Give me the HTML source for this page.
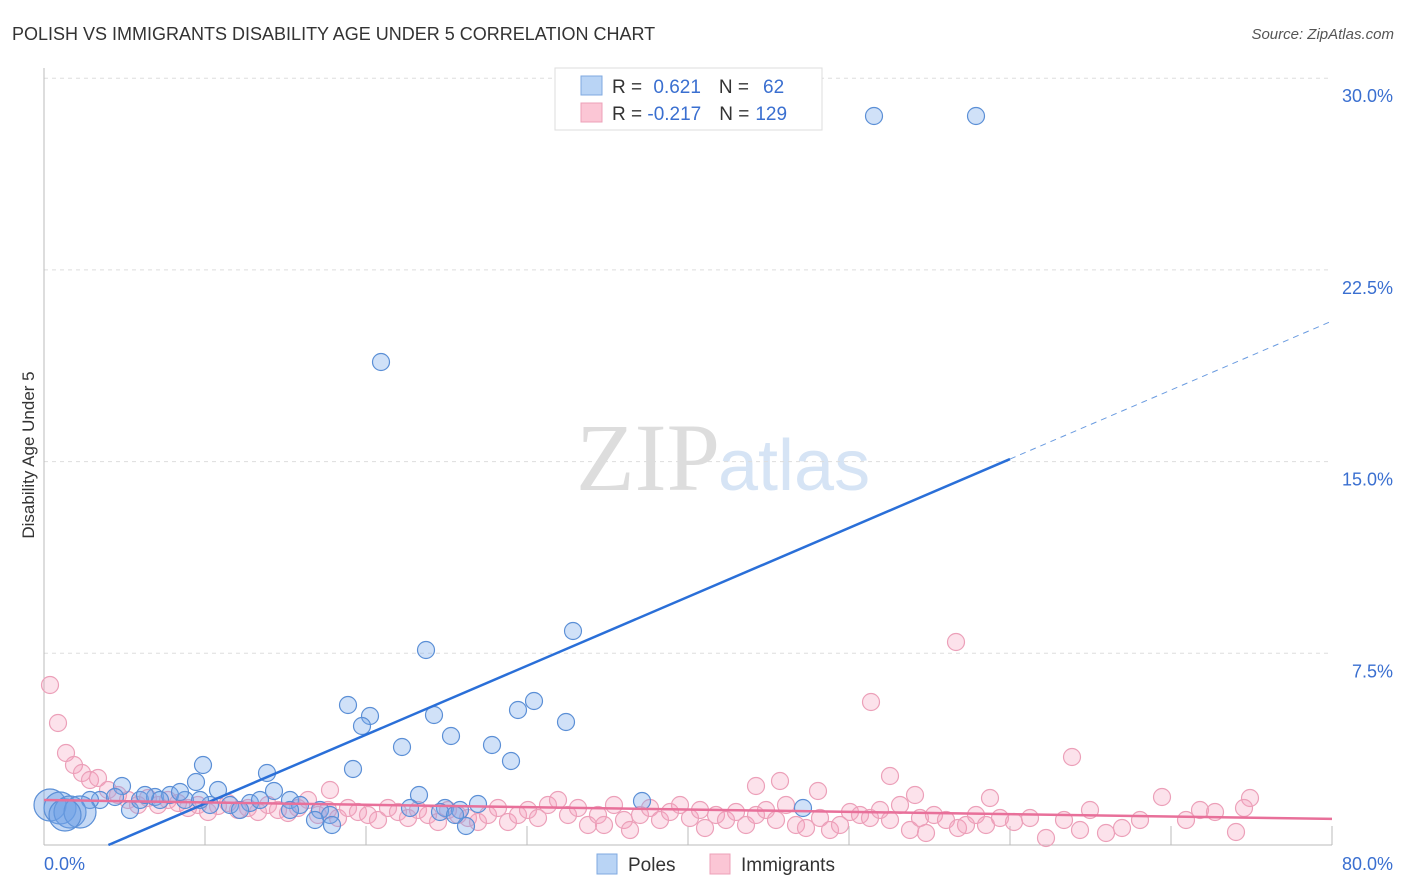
<!DOCTYPE html>
<html><head><meta charset="utf-8"><style>
body{margin:0;background:#fff;font-family:"Liberation Sans",sans-serif}
svg{display:block}
</style></head><body>
<svg width="1406" height="892" xmlns="http://www.w3.org/2000/svg">
<text x="12" y="40" font-size="18" fill="#333">POLISH VS IMMIGRANTS DISABILITY AGE UNDER 5 CORRELATION CHART</text>
<text x="1394" y="39" font-size="15" fill="#555" font-style="italic" text-anchor="end">Source: ZipAtlas.com</text>
<text x="720" y="490" font-size="96" fill="#ddd" font-family="Liberation Serif,serif" text-anchor="end">ZIP</text>
<text x="718" y="490" font-size="72" fill="#d6e4f5">atlas</text>
<g id="grid"></g>
<g id="axes"></g>
<g id="pts"></g>
<g id="lines"></g>
<text x="34" y="455" font-size="17" fill="#333" transform="rotate(-90 34 455)" text-anchor="middle">Disability Age Under 5</text>
<g>
<rect x="555" y="68" width="267" height="62" fill="#fff" stroke="#ddd"/>
<rect x="581" y="76" width="21" height="19" fill="#b9d4f5" stroke="#7fa9e0"/>
<rect x="581" y="103" width="21" height="19" fill="#fbc6d5" stroke="#eda0b8"/>
<text x="612" y="93" font-size="19" fill="#333">R = <tspan fill="#3a6fd0" dx="6">0.621</tspan><tspan dx="18" fill="#333">N =</tspan><tspan dx="14" fill="#3a6fd0">62</tspan></text>
<text x="612" y="120" font-size="19" fill="#333">R = <tspan fill="#3a6fd0">-0.217</tspan><tspan dx="18" fill="#333">N =</tspan><tspan dx="6" fill="#3a6fd0">129</tspan></text>
</g>
<g>
<rect x="597" y="854" width="20" height="20" fill="#b9d4f5" stroke="#7fa9e0"/>
<text x="628" y="871" font-size="19" fill="#333">Poles</text>
<rect x="710" y="854" width="20" height="20" fill="#fbc6d5" stroke="#eda0b8"/>
<text x="741" y="871" font-size="19" fill="#333">Immigrants</text>
</g>
</svg>
<script>
const yTicks=[7.5,15,22.5,30];
const yTickLabels=["7.5%","15.0%","22.5%","30.0%"];
const xTickVals=[10,20,30,40,50,60,70,80];
const polesPx=[[874,116],[976,116],[381,362],[573,631],[426,650],[348,705],[370,716],[362,726],[434,715],[534,701],[518,710],[566,722],[451,736],[402,747],[492,745],[511,761],[203,765],[353,769],[267,773],[196,782],[122,786],[218,790],[274,791],[419,795],[642,801],[478,804],[803,808],[100,800],[130,810],[140,800],[155,797],[170,795],[185,800],[210,805],[230,805],[250,803],[260,800],[290,800],[300,805],[320,810],[330,815],[315,820],[332,825],[410,808],[445,808],[460,810],[466,826],[240,810],[200,800],[160,800],[115,797],[90,800],[180,792],[145,795],[290,810],[440,812],[455,815]];
const polesBigPx=[[50,805],[60,808],[70,812],[80,812],[65,815]];
const immPx=[[50,685],[58,723],[66,753],[74,765],[82,773],[90,780],[98,778],[956,642],[871,702],[1072,757],[890,776],[780,781],[756,786],[818,791],[915,795],[990,798],[1162,797],[1250,798],[330,790],[108,790],[118,795],[128,800],[138,805],[148,798],[158,805],[168,800],[178,803],[188,808],[198,805],[208,812],[218,806],[228,803],[238,810],[248,808],[258,812],[268,805],[278,810],[288,813],[298,808],[308,800],[318,815],[328,810],[338,818],[348,808],[358,812],[368,815],[378,820],[388,808],[398,812],[408,818],[418,810],[428,815],[438,822],[448,810],[458,815],[468,818],[478,822],[488,815],[498,808],[508,822],[518,815],[528,810],[538,818],[548,805],[558,800],[568,815],[578,808],[588,825],[598,815],[604,825],[614,805],[624,820],[630,830],[640,815],[650,808],[660,820],[670,812],[680,805],[690,818],[700,810],[705,828],[716,815],[726,820],[736,812],[746,825],[756,815],[766,810],[776,820],[786,805],[796,825],[806,828],[820,818],[830,830],[840,825],[850,812],[860,815],[870,818],[880,810],[890,820],[900,805],[910,830],[920,818],[926,833],[934,815],[946,820],[958,828],[966,825],[976,815],[986,825],[1000,818],[1014,822],[1030,818],[1046,838],[1064,820],[1080,830],[1090,810],[1106,833],[1122,828],[1140,820],[1186,820],[1200,810],[1215,812],[1236,832],[1244,808]];
const x0=44,x1=1332,yb=845,pxPer=25.56;
const X=v=>x0+v/80*(x1-x0), Y=v=>yb-v*pxPer;
const iX=p=>(p-x0)/(x1-x0)*80, iY=p=>(yb-p)/pxPer;
const poles=polesPx.map(p=>[iX(p[0]),iY(p[1])]);
const polesBig=polesBigPx.map(p=>[iX(p[0]),iY(p[1])]);
const imm=immPx.map(p=>[iX(p[0]),iY(p[1])]);
const blueFit=[[4,0],[60,15.1],[80,20.5]];
const pinkFit=[[0,1.76],[80,1.02]];
const NS="http://www.w3.org/2000/svg";
function mk(t,a,par){const e=document.createElementNS(NS,t);for(const k in a)e.setAttribute(k,a[k]);document.getElementById(par).appendChild(e);return e;}
yTicks.forEach((v,i)=>{
 const l=mk('line',{x1:x0,x2:x1,y1:Y(v),y2:Y(v),stroke:'#ddd','stroke-dasharray':'4 4'},'grid');
 
 
 const t=mk('text',{x:1393,y:Y(v)+24,'font-size':18,fill:'#3a6fd0','text-anchor':'end'},'grid');t.textContent=yTickLabels[i];
 
 
});
let a=mk('line',{x1:x0,x2:x0,y1:68,y2:yb,stroke:'#bbb'},'axes');


a=mk('line',{x1:x0,x2:x1,y1:yb,y2:yb,stroke:'#bbb'},'axes');


xTickVals.forEach(v=>{const t=mk('line',{x1:X(v),x2:X(v),y1:yb-19,y2:yb,stroke:'#bbb'},'axes');
 
 });
let t=mk('text',{x:44,y:870,'font-size':18,fill:'#3a6fd0'},'axes');t.textContent='0.0%';


t=mk('text',{x:1393,y:870,'font-size':18,fill:'#3a6fd0','text-anchor':'end'},'axes');t.textContent='80.0%';


imm.forEach(d=>{const c=mk('circle',{cx:X(d[0]),cy:Y(d[1]),r:8.5,fill:'rgba(244,160,188,0.3)',stroke:'#eca0b9','stroke-width':1.2},'pts');
 
 });
poles.forEach(d=>{const c=mk('circle',{cx:X(d[0]),cy:Y(d[1]),r:8.5,fill:'rgba(120,170,235,0.35)',stroke:'#5b8fd6','stroke-width':1.2},'pts');
 
 });
polesBig.forEach(d=>{const c=mk('circle',{cx:X(d[0]),cy:Y(d[1]),r:16,fill:'rgba(110,160,230,0.4)',stroke:'#5b8fd6','stroke-width':1.2},'pts');
 
 });
let l=mk('line',{x1:X(blueFit[0][0]),y1:Y(blueFit[0][1]),x2:X(blueFit[1][0]),y2:Y(blueFit[1][1]),stroke:'#2a6fd8','stroke-width':2.5},'lines');


l=mk('line',{x1:X(blueFit[1][0]),y1:Y(blueFit[1][1]),x2:X(blueFit[2][0]),y2:Y(blueFit[2][1]),stroke:'#6a9be0','stroke-width':1,'stroke-dasharray':'6 5'},'lines');


l=mk('line',{x1:X(pinkFit[0][0]),y1:Y(pinkFit[0][1]),x2:X(pinkFit[1][0]),y2:Y(pinkFit[1][1]),stroke:'#e8709a','stroke-width':2.5},'lines');


</script>
</body></html>
